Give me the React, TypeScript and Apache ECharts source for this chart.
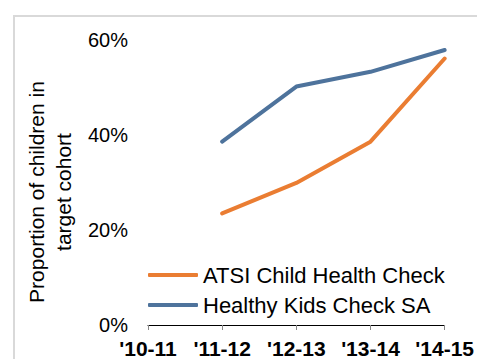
import React, { useEffect, useRef } from "react";
import * as echarts from "echarts";

const years = ["'10-11", "'11-12", "'12-13", "'13-14", "'14-15"];
const atsiChildHealthCheck = [null, 23.5, 29.9, 38.6, 56.1];
const healthyKidsCheckSA = [null, 38.6, 50.2, 53.3, 57.9];
const yTicks = { min: 0, max: 60, interval: 20 };

const FONT = "'Liberation Sans', Arial, sans-serif";

export default function App() {
  const ref = useRef<HTMLDivElement>(null);

  useEffect(() => {
    if (!ref.current) return;
    const chart = echarts.init(ref.current, null, { renderer: "svg" });
    chart.setOption({
      animation: false,
      backgroundColor: "#ffffff",
      textStyle: { fontFamily: FONT },
      grid: { left: 148, right: 30, top: 40, bottom: 34, containLabel: false },
      legend: {
        orient: "vertical",
        left: 148,
        top: 263,
        padding: 0,
        itemWidth: 50,
        itemHeight: 4,
        itemGap: 6,
        icon: "roundRect",
        textStyle: { fontSize: 22, color: "#000", fontFamily: FONT, lineHeight: 24 },
        data: ["ATSI Child Health Check", "Healthy Kids Check SA"],
      },
      xAxis: {
        type: "category",
        data: years,
        boundaryGap: false,
        axisLine: { lineStyle: { color: "#000", width: 1 } },
        axisTick: { length: 5, lineStyle: { color: "#888" } },
        axisLabel: {
          fontSize: 21,
          fontWeight: "bold",
          color: "#000",
          fontFamily: FONT,
          margin: 13,
          hideOverlap: false,
          interval: 0,
        },
      },
      yAxis: {
        type: "value",
        min: yTicks.min,
        max: yTicks.max,
        interval: yTicks.interval,
        axisLine: { show: false },
        axisTick: { show: false },
        splitLine: { show: false },
        axisLabel: {
          formatter: "{value}%",
          fontSize: 20,
          color: "#000",
          fontFamily: FONT,
          margin: 20,
        },
      },
      graphic: [
        {
          type: "rect",
          shape: { x: 14, y: 16, width: 480, height: 360 },
          style: { fill: "none", stroke: "#d9d9d9", lineWidth: 2 },
          silent: true,
        },
        {
          type: "text",
          x: 50,
          y: 192,
          rotation: Math.PI / 2,
          style: {
            text: "Proportion of children in\ntarget cohort",
            fontSize: 21,
            fontFamily: FONT,
            fill: "#000",
            align: "center",
            verticalAlign: "middle",
            lineHeight: 27,
          },
        },
      ],
      series: [
        {
          name: "ATSI Child Health Check",
          type: "line",
          data: atsiChildHealthCheck,
          showSymbol: false,
          symbol: "none",
          color: "#EA7D32",
          lineStyle: { width: 4, color: "#EA7D32", cap: "round", join: "round" },
        },
        {
          name: "Healthy Kids Check SA",
          type: "line",
          data: healthyKidsCheckSA,
          showSymbol: false,
          symbol: "none",
          color: "#4E739C",
          lineStyle: { width: 4, color: "#4E739C", cap: "round", join: "round" },
        },
      ],
    });
    return () => chart.dispose();
  }, []);

  return (
    <div
      ref={ref}
      style={{ position: "fixed", left: 0, top: 0, width: 477, height: 359, background: "#fff" }}
    />
  );
}
